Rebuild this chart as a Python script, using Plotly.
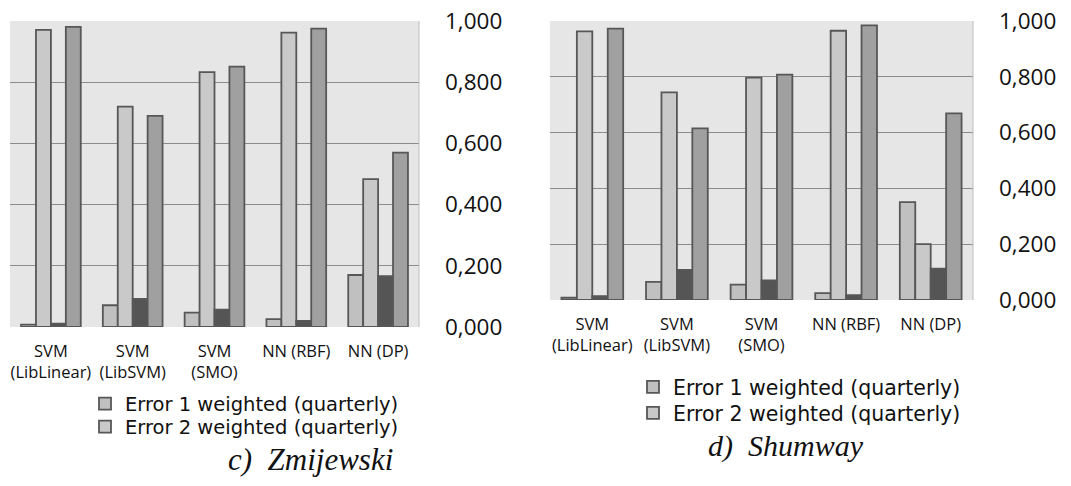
import plotly.graph_objects as go

# Classifier categories (two-line tick labels)
categories = ["SVM<br>(LibLinear)", "SVM<br>(LibSVM)", "SVM<br>(SMO)", "NN (RBF)", "NN (DP)"]
tick_values = [0.0, 0.2, 0.4, 0.6, 0.8, 1.0]

# c) Zmijewski
zm_err1_w = [0.008, 0.071, 0.047, 0.026, 0.170]
zm_err2_w = [0.971, 0.720, 0.833, 0.962, 0.483]
zm_err1_b = [0.011, 0.092, 0.057, 0.020, 0.166]
zm_err2_b = [0.981, 0.690, 0.851, 0.975, 0.570]

# d) Shumway
sh_err1_w = [0.008, 0.065, 0.055, 0.025, 0.351]
sh_err2_w = [0.963, 0.744, 0.797, 0.965, 0.200]
sh_err1_b = [0.014, 0.108, 0.070, 0.017, 0.112]
sh_err2_b = [0.973, 0.615, 0.808, 0.984, 0.669]

series_names = ["Error 1 weighted (quarterly)", "Error 2 weighted (quarterly)",
                "Error 1 weighted", "Error 2 weighted"]
series_colors = ["#c0c0c0", "#c9c9c9", "#555555", "#a0a0a0"]
outline = "#575757"

W, H = 1071, 486
SANS = "Open Sans, Liberation Sans, sans-serif"
LEG = "DejaVu Sans, Open Sans, sans-serif"
SERIF = "Liberation Serif, Times New Roman, serif"


def px_x(a, b):
    return [a / W, b / W]


def px_y(top, bottom):
    return [(H - bottom) / H, (H - top) / H]


fig = go.Figure()

# each visible legend entry gets its own legend box so the rows sit close together
panels = [
    ("x", "y", ["legend", "legend2"], [zm_err1_w, zm_err2_w, zm_err1_b, zm_err2_b]),
    ("x2", "y2", ["legend3", "legend4"], [sh_err1_w, sh_err2_w, sh_err1_b, sh_err2_b]),
]
for xa, ya, legs, data in panels:
    for i, vals in enumerate(data):
        fig.add_trace(go.Bar(
            x=categories, y=vals, name=series_names[i],
            xaxis=xa, yaxis=ya,
            legend=legs[i] if i < 2 else legs[0],
            showlegend=i < 2,
            marker=dict(color=series_colors[i], line=dict(color=outline, width=1.8)),
        ))

xaxis_common = dict(
    showgrid=False, zeroline=False, showline=False, ticks="", automargin=False,
    ticklabelstandoff=12,
    tickfont=dict(family=SANS, size=16.5, color="#111"),
)
yaxis_common = dict(
    range=[0, 1.0], tickvals=tick_values, tickformat=".3f", side="right",
    showgrid=True, gridcolor="#8c8c8c", gridwidth=1.3, zeroline=False,
    showline=False, ticks="", ticklabelstandoff=25, automargin=False,
    tickfont=dict(family=SANS, size=22.5, color="#111"),
)


def legend_box(x_px, y_px, size):
    return dict(
        x=x_px / W, y=(H - y_px) / H, xanchor="left", yanchor="middle",
        font=dict(family=LEG, size=size, color="#111"),
        bgcolor="rgba(0,0,0,0)", borderwidth=0, itemwidth=30,
    )


fig.update_layout(
    width=W, height=H,
    margin=dict(l=0, r=0, t=0, b=0),
    paper_bgcolor="white",
    plot_bgcolor="#e6e6e6",
    separators=", ",
    barmode="group",
    bargap=0.27,
    bargroupgap=0,
    xaxis=dict(domain=px_x(10, 419), anchor="y", **xaxis_common),
    yaxis=dict(domain=px_y(21, 327), anchor="x", **yaxis_common),
    xaxis2=dict(domain=px_x(550, 973), anchor="y2", **xaxis_common),
    yaxis2=dict(domain=px_y(21, 300), anchor="x2", **yaxis_common),
    legend=legend_box(85, 404, 19.5),
    legend2=legend_box(85, 427, 19.5),
    legend3=legend_box(633, 387, 20.5),
    legend4=legend_box(633, 413, 20.5),
    annotations=[
        dict(text="c)  Zmijewski", x=310 / W, y=(H - 459) / H, xref="paper", yref="paper",
             showarrow=False, xanchor="center", yanchor="middle",
             font=dict(family=SERIF, size=31, color="#111", style="italic")),
        dict(text="d)  Shumway", x=786 / W, y=(H - 446) / H, xref="paper", yref="paper",
             showarrow=False, xanchor="center", yanchor="middle",
             font=dict(family=SERIF, size=30, color="#111", style="italic")),
    ],
)

# light frame line at the right edge of each plot area
for xa, ya in [("x", "y"), ("x2", "y2")]:
    fig.add_shape(type="line", xref=f"{xa} domain", yref=f"{ya} domain",
                  x0=1, x1=1, y0=0, y1=1, line=dict(color="#bdbdbd", width=1))

fig.write_html("out.html")
